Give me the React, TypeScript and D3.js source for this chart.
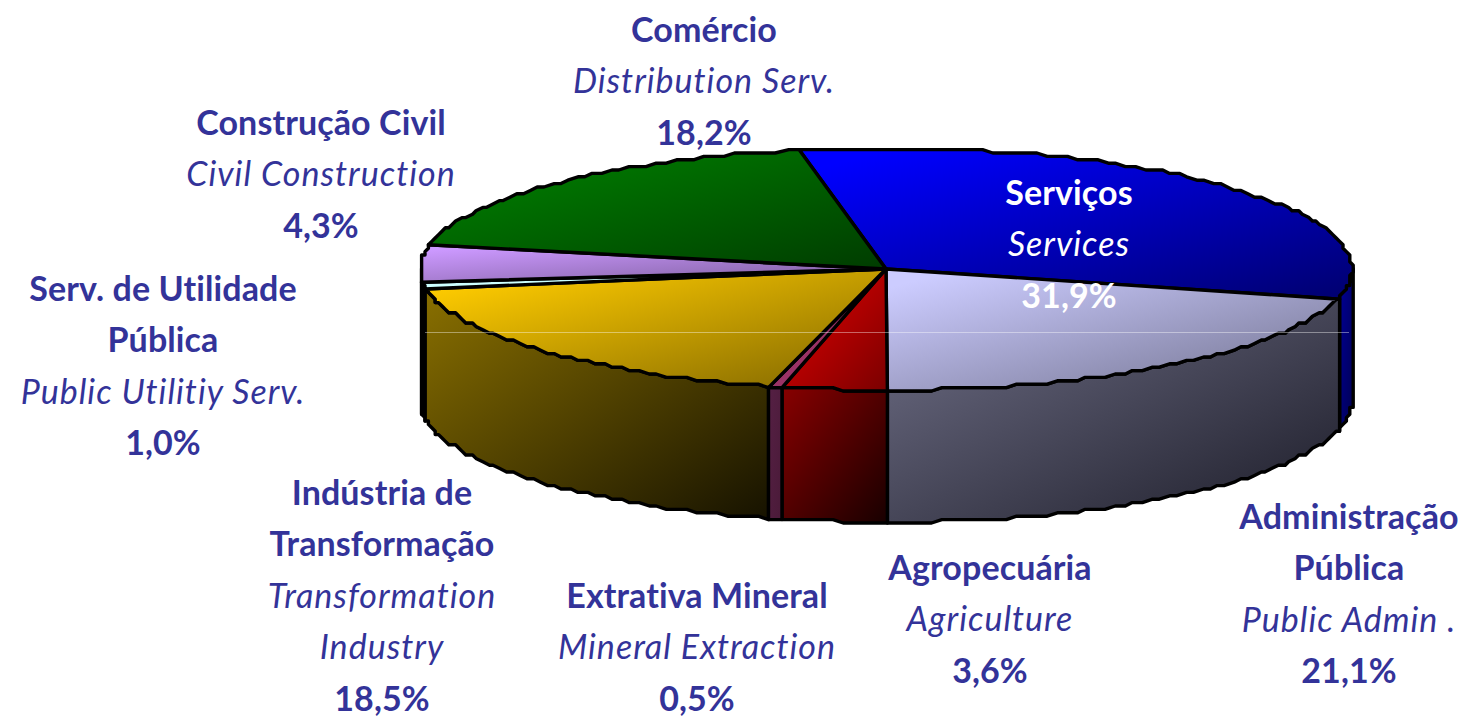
import React from "react";
import * as d3 from "d3";

const names = ["Serviços", "Administração Pública", "Agropecuária", "Extrativa Mineral", "Indústria de Transformação", "Serv. de Utilidade Pública", "Construção Civil", "Comércio"];
const sliceShares = [31.9, 21.1, 3.6, 0.5, 18.5, 0.8, 4.7, 18.9];
const topFrom = ["#0000ff", "#ccccff", "#e00000", "#993366", "#ffcc00", "#ccffff", "#cc99ff", "#008000"];
const topTo = ["#00006e", "#70708c", "#7a0000", "#993366", "#806600", "#ccffff", "#7a5b99", "#003c00"];
const sideFrom = ["#000099", "#707088", "#880000", "#552044", "#8a7000", "#667f7f", "#664c7f", "#004000"];
const sideTo = ["#000050", "#1c1c28", "#180000", "#4a1a38", "#161200", "#667f7f", "#664c7f", "#004000"];

const boldLines = [["Serviços"], ["Administração", "Pública"], ["Agropecuária"], ["Extrativa Mineral"], ["Indústria de", "Transformação"], ["Serv. de Utilidade", "Pública"], ["Construção Civil"], ["Comércio"]];
const italicLines = [["Services"], ["Public Admin ."], ["Agriculture"], ["Mineral Extraction"], ["Transformation", "Industry"], ["Public Utilitiy Serv."], ["Civil Construction"], ["Distribution Serv."]];
const percentLabels = ["31,9%", "21,1%", "3,6%", "0,5%", "18,5%", "1,0%", "4,3%", "18,2%"];
const labelX = [1069, 1349, 990, 697, 382, 163, 321, 704];
const labelTop = [205, 529, 580, 608, 505, 301, 135, 42];
const labelColor = ["#ffffff", "#333399", "#333399", "#333399", "#333399", "#333399", "#333399", "#333399"];

const cx = 886, cy = 269, rx = 466, ry = 121, depth = 132;
const startDeg = -10.9;
const lineStep = 51.4;
const grid = 3.4;
const FONT = "Lato, Carlito, sans-serif";

const toRad = d3.scaleLinear().domain([0, 360]).range([0, Math.PI * 2]);
const pie = d3.pie<number>().sort(null).startAngle(toRad(startDeg)).endAngle(toRad(startDeg + 360));
const arcs = pie(sliceShares);

const snap = (v: number) => Math.round(v / grid) * grid;
const pt = (t: number, dz = 0): [number, number] => [snap(cx + rx * Math.sin(t)), snap(cy - ry * Math.cos(t)) + dz];
const rim = (a: number, b: number, dz = 0) => {
  const n = Math.max(1, Math.ceil((Math.abs(b - a) * rx) / 11));
  return d3.range(n + 1).map((i) => pt(a + ((b - a) * i) / n, dz));
};
const line = d3.line().curve(d3.curveLinear);

const topPath = (a: number, b: number) => line([[cx, cy], ...rim(a, b)])! + "Z";
const sidePath = (a: number, b: number) => {
  const lo = Math.max(a, Math.PI / 2), hi = Math.min(b, Math.PI * 1.5);
  if (hi <= lo) return null;
  return line([...rim(lo, hi), ...rim(hi, lo, depth)])! + "Z";
};

export default function App() {
  return (
    <svg width={1464} height={717} style={{ position: "absolute", left: 0, top: 0, background: "#fff" }} fontFamily={FONT}>
      <defs>
        {arcs.map((d, i) => (
          <React.Fragment key={i}>
            <linearGradient id={`top${i}`} x1="0" y1="0" x2="1" y2="1">
              <stop offset="0.08" stopColor={topFrom[i]} />
              <stop offset="1" stopColor={topTo[i]} />
            </linearGradient>
            <linearGradient id={`side${i}`} x1="0" y1="0" x2="1" y2="1">
              <stop offset="0" stopColor={sideFrom[i]} />
              <stop offset="1" stopColor={sideTo[i]} />
            </linearGradient>
          </React.Fragment>
        ))}
      </defs>
      <g stroke="#000" strokeWidth={3.4} strokeLinejoin="round">
        {arcs.map((d, i) => {
          const p = sidePath(d.startAngle, d.endAngle);
          return p ? <path key={i} d={p} fill={`url(#side${i})`} /> : null;
        })}
        {arcs.map((d, i) => (
          <path key={i} d={topPath(d.startAngle, d.endAngle)} fill={`url(#top${i})`} />
        ))}
      </g>
      <line x1={425} x2={1349} y1={332.5} y2={332.5} stroke="#fff" strokeOpacity={0.4} strokeWidth={1} />
      {names.map((name, i) => {
        const rows = [
          ...boldLines[i].map((s) => ({ s, italic: false })),
          ...italicLines[i].map((s) => ({ s, italic: true })),
          { s: percentLabels[i], italic: false },
        ];
        return (
          <g key={name} fill={labelColor[i]} textAnchor="middle" fontSize={34} style={{ fontVariantLigatures: "none" }}>
            {rows.map((r, j) => (
              <text
                key={j}
                x={labelX[i]}
                y={labelTop[i] + j * lineStep}
                fontWeight={r.italic ? 400 : 700}
                fontStyle={r.italic ? "italic" : "normal"}
                letterSpacing={r.italic ? 1 : 0.1}
              >
                {r.s}
              </text>
            ))}
          </g>
        );
      })}
    </svg>
  );
}
